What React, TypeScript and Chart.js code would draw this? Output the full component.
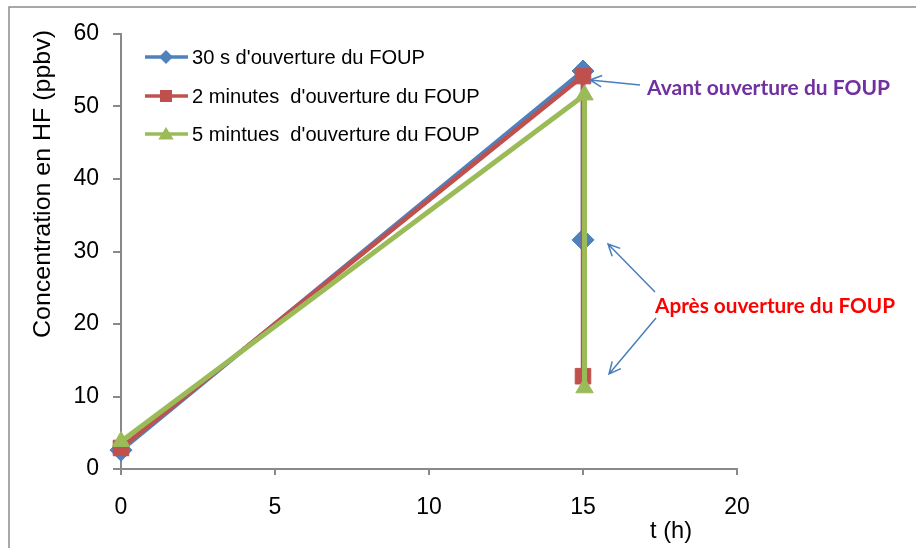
import React, { useEffect, useRef } from "react";
import { Chart, registerables } from "chart.js";

Chart.register(...registerables);

// ---- Data ----
const seriesLabels = [
  "30 s d'ouverture du FOUP",
  "2 minutes  d'ouverture du FOUP",
  "5 mintues  d'ouverture du FOUP",
];
const s30X = [0, 15, 15.0];
const s30Y = [2.6, 54.9, 31.6];
const s2mX = [0, 15, 15.0];
const s2mY = [2.9, 54.2, 12.8];
const s5mX = [0, 15.05, 15.05];
const s5mY = [3.8, 51.6, 11.2];

const xTicks = [0, 5, 10, 15, 20];
const yTicks = [0, 10, 20, 30, 40, 50, 60];

const yTitle = "Concentration en HF (ppbv)";
const xTitle = "t (h)";
const noteBefore = "Avant ouverture du FOUP";
const noteAfter = "Après ouverture du FOUP";

const BLUE = "#4F81BD";
const RED = "#C0504D";
const GREEN = "#9BBB59";
const AXIS = "#898989";
const ARROW = "#4A7EBB";

const toPts = (xs: number[], ys: number[]) => xs.map((x, i) => ({ x, y: ys[i] }));

function fitText(
  ctx: CanvasRenderingContext2D,
  text: string,
  x: number,
  y: number,
  width: number,
  font: string,
  color: string
) {
  ctx.save();
  ctx.font = font;
  const w = ctx.measureText(text).width;
  ctx.translate(x, y);
  ctx.scale(width / w, 1);
  ctx.fillStyle = color;
  ctx.textAlign = "left";
  ctx.textBaseline = "alphabetic";
  ctx.fillText(text, 0, 0);
  ctx.restore();
}

function arrow(ctx: CanvasRenderingContext2D, x1: number, y1: number, x2: number, y2: number) {
  ctx.save();
  ctx.strokeStyle = ARROW;
  ctx.lineWidth = 1.5;
  ctx.beginPath();
  ctx.moveTo(x1, y1);
  ctx.lineTo(x2, y2);
  const a = Math.atan2(y2 - y1, x2 - x1);
  const L = 13;
  const s = 0.45;
  ctx.moveTo(x2 - L * Math.cos(a - s), y2 - L * Math.sin(a - s));
  ctx.lineTo(x2, y2);
  ctx.lineTo(x2 - L * Math.cos(a + s), y2 - L * Math.sin(a + s));
  ctx.stroke();
  ctx.restore();
}

function drawMarker(ctx: CanvasRenderingContext2D, style: string, x: number, y: number, r: number, color: string) {
  ctx.save();
  ctx.fillStyle = color;
  ctx.beginPath();
  if (style === "rectRot") {
    ctx.moveTo(x - r, y);
    ctx.lineTo(x, y - r);
    ctx.lineTo(x + r, y);
    ctx.lineTo(x, y + r);
  } else if (style === "rect") {
    ctx.rect(x - r, y - r, 2 * r, 2 * r);
  } else {
    ctx.moveTo(x, y - r);
    ctx.lineTo(x + r * 1.1, y + r * 0.8);
    ctx.lineTo(x - r * 1.1, y + r * 0.8);
  }
  ctx.closePath();
  ctx.fill();
  ctx.restore();
}

const decorPlugin = {
  id: "decor",
  afterDraw(chart: any) {
    const ctx: CanvasRenderingContext2D = chart.ctx;
    // frame
    ctx.save();
    ctx.strokeStyle = "#8c8c8c";
    ctx.lineWidth = 1.5;
    ctx.beginPath();
    ctx.moveTo(9, 548);
    ctx.lineTo(9, 7);
    ctx.lineTo(916, 7);
    ctx.stroke();
    ctx.restore();

    // y title (rotated)
    ctx.save();
    ctx.translate(50, 338);
    ctx.rotate(-Math.PI / 2);
    fitText(ctx, yTitle, 0, 0, 308, "24px 'Liberation Sans', Arial", "#000");
    ctx.restore();

    // x title
    fitText(ctx, xTitle, 650, 538, 42, "24px 'Liberation Sans', Arial", "#000");

    // legend
    const colors = [BLUE, RED, GREEN];
    const styles = ["rectRot", "rect", "triangle"];
    const sizes = [7, 6, 7];
    const rowsY = [57, 96, 134];
    ctx.save();
    ctx.font = "20px 'Liberation Sans', Arial";
    const base = ctx.measureText(seriesLabels[0]).width;
    ctx.restore();
    const sx = 233 / base;
    seriesLabels.forEach((lab, i) => {
      const cy = rowsY[i];
      ctx.save();
      ctx.strokeStyle = colors[i];
      ctx.lineWidth = 3.5;
      ctx.beginPath();
      ctx.moveTo(145, cy);
      ctx.lineTo(188, cy);
      ctx.stroke();
      ctx.restore();
      drawMarker(ctx, styles[i], 166, cy, sizes[i], colors[i]);
      ctx.save();
      ctx.font = "20px 'Liberation Sans', Arial";
      const w = ctx.measureText(lab).width;
      ctx.restore();
      fitText(ctx, lab, 192, cy + 7, w * sx, "20px 'Liberation Sans', Arial", "#000");
    });

    // annotations
    fitText(ctx, noteBefore, 647, 95, 243, "bold 21px Lato, 'Open Sans', sans-serif", "#7030A0");
    fitText(ctx, noteAfter, 655, 313, 240, "bold 21px Lato, 'Open Sans', sans-serif", "#FF0000");
    arrow(ctx, 640, 85, 590, 80);
    arrow(ctx, 655, 292, 608, 244);
    arrow(ctx, 656, 318, 609, 374);
  },
};

export default function App() {
  const ref = useRef<HTMLCanvasElement | null>(null);
  useEffect(() => {
    if (!ref.current) return;
    const tickFont = { family: "'Liberation Sans', Arial", size: 23 };
    const chart = new Chart(ref.current, {
      type: "line",
      data: {
        datasets: [
          {
            label: seriesLabels[0],
            data: toPts(s30X, s30Y),
            borderColor: BLUE,
            backgroundColor: BLUE,
            borderWidth: 4.5,
            pointStyle: "rectRot",
            pointRadius: 11,
            pointBorderWidth: 1,
            tension: 0,
            clip: false as any,
            order: 2,
          },
          {
            label: seriesLabels[1],
            data: toPts(s2mX, s2mY),
            borderColor: RED,
            backgroundColor: RED,
            borderWidth: 4.5,
            pointStyle: "rect",
            pointRadius: 11,
            pointBorderWidth: 1,
            tension: 0,
            clip: false as any,
            order: 1,
          },
          {
            label: seriesLabels[2],
            data: toPts(s5mX, s5mY),
            borderColor: GREEN,
            backgroundColor: GREEN,
            borderWidth: 5,
            pointStyle: "triangle",
            pointRadius: 10,
            pointBorderWidth: 1,
            tension: 0,
            clip: false as any,
            order: 0,
          },
        ],
      },
      options: {
        responsive: false,
        animation: false,
        devicePixelRatio: 1,
        layout: { padding: { left: 0, top: 34, right: 179, bottom: 0 } },
        plugins: { legend: { display: false }, tooltip: { enabled: false } },
        scales: {
          x: {
            type: "linear",
            min: 0,
            max: 20,
            afterBuildTicks: (s: any) => {
              s.ticks = xTicks.map((v) => ({ value: v }));
            },
            afterFit: (s: any) => {
              s.height = 79;
            },
            ticks: { color: "#000", font: tickFont, padding: 19, maxRotation: 0 },
            grid: { drawOnChartArea: false, drawTicks: true, tickLength: 6, color: AXIS, lineWidth: 2 },
            border: { display: true, color: AXIS, width: 2 },
          },
          y: {
            type: "linear",
            min: 0,
            max: 60,
            afterBuildTicks: (s: any) => {
              s.ticks = yTicks.map((v) => ({ value: v }));
            },
            afterFit: (s: any) => {
              s.width = 121;
            },
            ticks: { color: "#000", font: tickFont, padding: 14 },
            grid: { drawOnChartArea: false, drawTicks: true, tickLength: 8, color: AXIS, lineWidth: 2 },
            border: { display: true, color: AXIS, width: 2 },
          },
        },
      },
      plugins: [decorPlugin],
    } as any);
    return () => chart.destroy();
  }, []);
  return (
    <div style={{ position: "fixed", left: 0, top: 0, width: 916, height: 548, background: "#fff" }}>
      <canvas ref={ref} width={916} height={548} style={{ display: "block" }} />
    </div>
  );
}
